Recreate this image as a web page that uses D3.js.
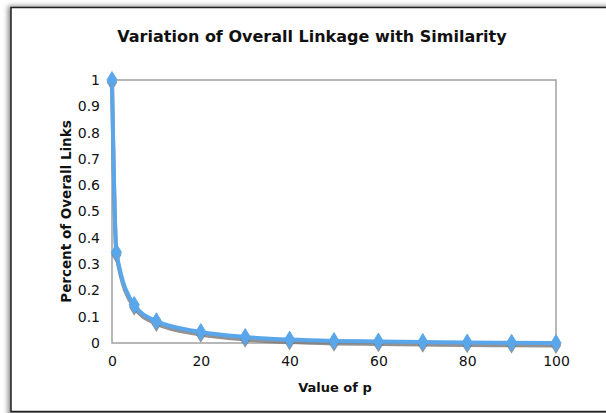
<!DOCTYPE html>
<html><head><meta charset="utf-8">
<script src="https://cdn.jsdelivr.net/npm/d3@7/dist/d3.min.js"></script>
<style>body{margin:0;background:#fff}svg{display:block}text{font-family:"DejaVu Sans",Verdana,sans-serif}</style>
</head><body>
<script>
const pValues = [0, 1, 5, 10, 20, 30, 40, 50, 60, 70, 80, 90, 100];
const linkShare = [1, 0.345, 0.145, 0.083, 0.042, 0.023, 0.013, 0.008, 0.006, 0.004, 0.002, 0.001, 0.0];
const xTicks = [0, 20, 40, 60, 80, 100];
const yTicks = [0, 0.1, 0.2, 0.3, 0.4, 0.5, 0.6, 0.7, 0.8, 0.9, 1];
const title = "Variation of Overall Linkage with Similarity";
const xTitle = "Value of p";
const yTitle = "Percent of Overall Links";

const W = 606, H = 413;
const svg = d3.select("body").append("svg").attr("width", W).attr("height", H);
const defs = svg.append("defs");
const f = defs.append("filter").attr("id","sh").attr("x","-20%").attr("y","-20%").attr("width","140%").attr("height","140%");
f.append("feGaussianBlur").attr("stdDeviation",2.5);

// outer frame with shadow
svg.append("rect").attr("x",8).attr("y",6).attr("width",620).attr("height",420).attr("fill","#888").attr("filter","url(#sh)");
svg.append("rect").attr("x",11).attr("y",7.5).attr("width",620).attr("height",404).attr("fill","#fff").attr("stroke","#222").attr("stroke-width",1.5);

const x0 = 112, x1 = 556, y0 = 343, y1 = 80;
const x = d3.scaleLinear().domain([0,100]).range([x0,x1]);
const y = d3.scaleLinear().domain([0,1]).range([y0,y1]);

// plot frame
svg.append("rect").attr("x",x0).attr("y",y1).attr("width",x1-x0).attr("height",y0-y1)
  .attr("fill","none").attr("stroke","#a0a0a0").attr("stroke-width",1.5);

const xa = svg.append("g").attr("transform",`translate(0,${y0})`)
  .call(d3.axisBottom(x).tickValues(xTicks).tickSize(0).tickPadding(13));
const ya = svg.append("g").attr("transform",`translate(${x0},0)`)
  .call(d3.axisLeft(y).tickValues(yTicks).tickSize(0).tickPadding(12).tickFormat(d=>String(+d.toFixed(1))));
[xa,ya].forEach(a=>{a.select(".domain").remove();a.selectAll("text").attr("font-size",14).attr("fill","#111").attr("font-family","DejaVu Sans, Verdana, sans-serif");});

svg.append("text").attr("x",312).attr("y",42).attr("text-anchor","middle").attr("font-size",16).attr("font-weight","bold").attr("fill","#111").text(title);
svg.append("text").attr("x",335).attr("y",392).attr("text-anchor","middle").attr("font-size",13).attr("font-weight","bold").attr("fill","#111").text(xTitle);
svg.append("text").attr("transform",`translate(66,${(y0+y1)/2}) rotate(-90)`).attr("text-anchor","middle").attr("dominant-baseline","central").attr("font-size",13.5).attr("font-weight","bold").attr("fill","#111").text(yTitle);

const data = pValues.map((p,i)=>({p, v: linkShare[i]}));
const line = d3.line().x(d=>x(d.p)).y(d=>y(d.v)).curve(d3.curveMonotoneX);

// shadow line
svg.append("path").datum(data).attr("d",line).attr("transform","translate(0,2.5)")
  .attr("fill","none").attr("stroke","#777").attr("stroke-width",4).attr("opacity",0.8);
const sym = d3.symbol().type(d3.symbolDiamond).size(100);
svg.append("g").attr("transform","translate(0,2.5)").selectAll("path").data(data).join("path")
  .attr("transform",d=>`translate(${x(d.p)},${y(d.v)}) scale(0.95,0.9)`).attr("d",sym).attr("fill","#777").attr("opacity",0.8);

svg.append("path").datum(data).attr("d",line)
  .attr("fill","none").attr("stroke","#5aa6ea").attr("stroke-width",4).attr("stroke-linejoin","round");
svg.append("g").selectAll("path").data(data).join("path")
  .attr("transform",d=>`translate(${x(d.p)},${y(d.v)}) scale(0.95,0.9)`).attr("d",sym).attr("fill","#5aa6ea").attr("stroke","#5aa6ea").attr("stroke-width",1).attr("stroke-linejoin","round");
</script>
</body></html>
